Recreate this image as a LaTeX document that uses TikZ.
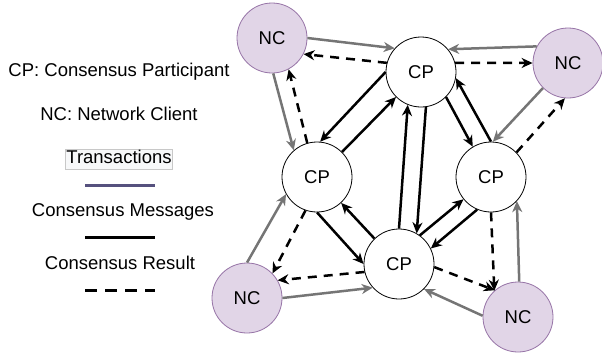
\documentclass[tikz,border=0pt]{standalone}
\usepackage{fontspec}
\setmainfont{Liberation Sans}
\usetikzlibrary{arrows.meta}

\definecolor{ncfill}{HTML}{E1D5E7}
\definecolor{ncline}{HTML}{9673A6}
\definecolor{txgray}{HTML}{757575}
\definecolor{txlegend}{HTML}{56517E}
\definecolor{boxline}{HTML}{C8C8C8}
\definecolor{boxfill}{HTML}{F7F8F9}

\begin{document}
\begin{tikzpicture}[
    x=1pt, y=-1pt,
    font=\fontsize{18.5}{22}\selectfont,
    peer/.style={circle, draw, line width=0.8pt, minimum size=70pt, inner sep=0pt, fill=white},
    client/.style={peer, draw=ncline, fill=ncfill},
    tx/.style={-{Stealth[length=11pt, width=10pt, inset=3.5pt]}, line width=2.5pt, txgray},
    msg/.style={-{Stealth[length=11pt, width=10pt, inset=3.5pt]}, line width=2.5pt, black},
    res/.style={msg, dash pattern=on 9pt off 7pt},
    legend/.style={inner sep=0pt, text height=13.5pt, text depth=4pt},
  ]
    \useasboundingbox (0,0) rectangle (602,354);

    % legend
    \node[legend] (lcp)  at (119,72)  {CP: Consensus Participant};
    \node[legend] (lnc)  at (119,116) {NC: Network Client};
    \node[legend, draw=boxline, fill=boxfill, inner sep=1pt] (ltx) at (119,159) {Transactions};
    \draw[line width=3pt, txlegend] (85,185) -- (155,185);
    \node[legend] (lmsg) at (123,212) {Consensus Messages};
    \draw[line width=3pt] (85,237) -- (155,237);
    \node[legend] (lres) at (120,265) {Consensus Result};
    \draw[line width=3pt, dash pattern=on 12pt off 8pt] (85,290) -- (155,290);

    % consensus participants
    \node[peer] (cpt) at (421,72)  {CP};
    \node[peer] (cpl) at (317,177) {CP};
    \node[peer] (cpr) at (491,177) {CP};
    \node[peer] (cpb) at (399,264) {CP};

    % network clients
    \node[client] (nctl) at (272,38)  {NC};
    \node[client] (nctr) at (568,63)  {NC};
    \node[client] (ncbl) at (247,298) {NC};
    \node[client] (ncbr) at (518,317) {NC};

    % transactions
    \draw[tx] (nctl.0)   -- (cpt.138);
    \draw[tx] (nctl.-88) -- (cpl.131);
    \draw[tx] (nctr.152) -- (cpt.40);
    \draw[tx] (nctr.225) -- (cpr.87);
    \draw[tx] (ncbl.90)  -- (cpl.209);
    \draw[tx] (ncbl.0)   -- (cpb.222);
    \draw[tx] (ncbr.178) -- (cpb.315);
    \draw[tx] (ncbr.88)  -- (cpr.-43);

    % consensus messages
    \draw[msg] (cpt.180) -- (cpl.85);
    \draw[msg] (cpl.45)  -- (cpt.225);
    \draw[msg] (cpb.90)  -- (cpt.248);
    \draw[msg] (cpt.278) -- (cpb.60);
    \draw[msg] (cpt.-45) -- (cpr.121);
    \draw[msg] (cpr.90)  -- (cpt.-10);
    \draw[msg] (cpl.270) -- (cpb.180);
    \draw[msg] (cpb.134) -- (cpl.-47);
    \draw[msg] (cpb.54)  -- (cpr.219);
    \draw[msg] (cpr.247) -- (cpb.26);

    % consensus results
    \draw[res] (cpt.165) -- (nctl.-27);
    \draw[res] (cpt.15)  -- (nctr.180);
    \draw[res] (cpl.106) -- (nctl.-62);
    \draw[res] (cpl.251) -- (ncbl.44);
    \draw[res] (cpb.193) -- (ncbl.30);
    \draw[res] (cpb.-5)  -- (ncbr.131);
    \draw[res] (cpr.44)  -- (nctr.265);
    \draw[res] (cpr.270) -- (ncbr.132);
  \end{tikzpicture}
\end{document}
